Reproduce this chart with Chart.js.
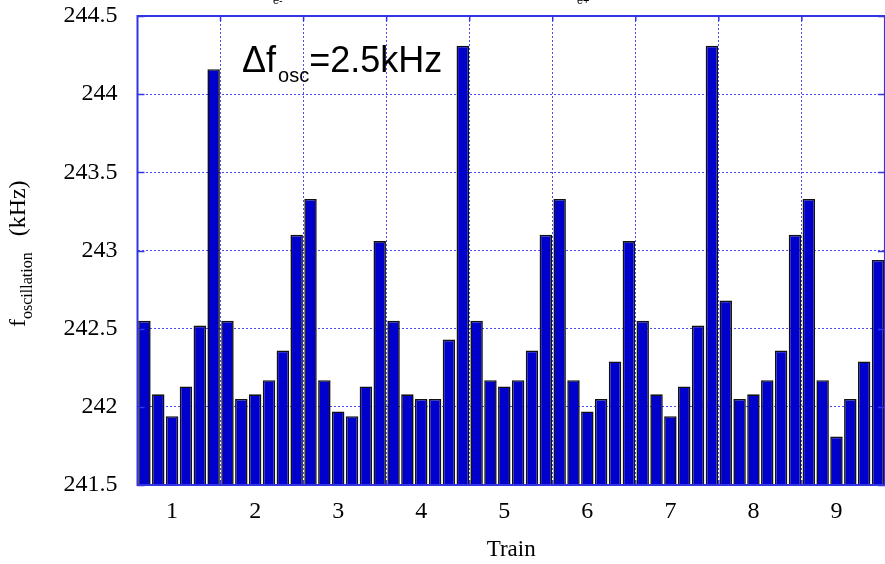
<!DOCTYPE html>
<html>
<head>
<meta charset="utf-8">
<title>Oscillation frequency per bunch</title>
<script src="https://cdn.jsdelivr.net/npm/chart.js@4.4.1/dist/chart.umd.min.js"></script>
<style>
  html, body { margin: 0; padding: 0; background: #fff; overflow: hidden; }
  #wrap { position: relative; width: 890px; height: 564px; }
</style>
</head>
<body>
<div id="wrap"><canvas id="oscChart"></canvas></div>
<script>
// trains along the x axis, 6 bunches each
const trains = ['1', '2', '3', '4', '5', '6', '7', '8', '9'];
const bunchesPerTrain = 6;

// measured oscillation frequency per bunch (kHz)
const train1 = [242.55, 242.08, 241.94, 242.13, 242.52, 244.16];
const train2 = [242.55, 242.05, 242.08, 242.17, 242.36, 243.10];
const train3 = [243.33, 242.17, 241.97, 241.94, 242.13, 243.06];
const train4 = [242.55, 242.08, 242.05, 242.05, 242.43, 244.31];
const train5 = [242.55, 242.17, 242.13, 242.17, 242.36, 243.10];
const train6 = [243.33, 242.17, 241.97, 242.05, 242.29, 243.06];
const train7 = [242.55, 242.08, 241.94, 242.13, 242.52, 244.31];
const train8 = [242.68, 242.05, 242.08, 242.17, 242.36, 243.10];
const train9 = [243.33, 242.17, 241.81, 242.05, 242.29, 242.94];

const yMin = 241.5;
const yMax = 244.5;
const yStep = 0.5;

const fOsc = [].concat(train1, train2, train3, train4, train5, train6, train7, train8, train9);

// one category per bunch, train number printed under the 3rd bunch
const labels = fOsc.map((v, i) => (i % bunchesPerTrain === 2 ? trains[Math.floor(i / bunchesPerTrain)] : ''));

const axisBlue = '#3434e4';
const gridBlue = '#4c4cff';
const serif = "'Liberation Serif', 'Times New Roman', serif";
const sans = "'Liberation Sans', Arial, sans-serif";

const decorations = {
  id: 'decorations',
  afterDatasetsDraw(chart) {
    const ctx = chart.ctx;
    const a = chart.chartArea;
    const y = chart.scales.y;
    const x = chart.scales.x;

    ctx.save();
    // frame
    ctx.strokeStyle = axisBlue;
    ctx.lineWidth = 2;
    ctx.strokeRect(a.left, a.top, a.right - a.left, a.bottom - a.top);

    // inward tick marks
    ctx.lineWidth = 1.5;
    ctx.beginPath();
    y.ticks.forEach(t => {
      const py = Math.round(y.getPixelForValue(t.value)) + 0.5;
      ctx.moveTo(a.left, py); ctx.lineTo(a.left + 7, py);
      ctx.moveTo(a.right, py); ctx.lineTo(a.right - 7, py);
    });
    for (let t = 1; t < trains.length; t++) {
      const px = (x.getPixelForValue(t * bunchesPerTrain) + x.getPixelForValue(t * bunchesPerTrain - 1)) / 2;
      ctx.moveTo(px, a.top); ctx.lineTo(px, a.top + 5);
      ctx.moveTo(px, a.bottom); ctx.lineTo(px, a.bottom - 5);
    }
    ctx.stroke();

    ctx.fillStyle = '#000';
    ctx.textBaseline = 'alphabetic';
    ctx.textAlign = 'left';

    // y axis title: f_oscillation (kHz)
    ctx.save();
    ctx.translate(25, 327);
    ctx.rotate(-Math.PI / 2);
    ctx.font = '24px ' + serif;
    ctx.fillText('f', 0, 0);
    let cx = ctx.measureText('f').width;
    ctx.font = '16px ' + serif;
    ctx.fillText('oscillation', cx, 7);
    cx += ctx.measureText('oscillation').width + 16;
    ctx.font = '24px ' + serif;
    ctx.fillText('(kHz)', cx, 0);
    ctx.restore();

    // annotation: Δf_osc = 2.5kHz
    let ax = 242;
    ctx.font = '36px ' + sans;
    ctx.fillText('\u0394f', ax, 72);
    ax += ctx.measureText('\u0394f').width + 2;
    ctx.font = '20px ' + sans;
    ctx.fillText('osc', ax, 82);
    ax += ctx.measureText('osc').width;
    ctx.font = '36px ' + sans;
    ctx.fillText('=2.5kHz', ax, 72);

    // beam labels clipped at the top edge
    ctx.font = '11px ' + sans;
    ctx.fillText('e-', 273, 4);
    ctx.fillText('e+', 577, 4);
    ctx.restore();
  }
};

new Chart(document.getElementById('oscChart'), {
  type: 'bar',
  data: {
    labels: labels,
    datasets: [{
      data: fOsc,
      backgroundColor: '#0000cc',
      borderColor: '#111111',
      borderWidth: 1.6,
      barPercentage: 0.9,
      categoryPercentage: 1.0
    }]
  },
  options: {
    responsive: true,
    maintainAspectRatio: false,
    animation: false,
    layout: { padding: { top: 16, right: 0, left: 0, bottom: 0 } },
    plugins: {
      legend: { display: false },
      tooltip: { enabled: false }
    },
    scales: {
      x: {
        afterFit: s => { s.height = 79; },
        border: { display: false, dash: [2, 2] },
        grid: {
          drawTicks: false,
          lineWidth: 1,
          color: c => (c.index > 0 && c.index % bunchesPerTrain === 0 ? gridBlue : 'transparent')
        },
        ticks: {
          autoSkip: false,
          maxRotation: 0,
          padding: 12,
          color: '#000',
          font: { family: serif, size: 24 }
        },
        title: {
          display: true,
          text: 'Train',
          color: '#000',
          font: { family: serif, size: 23 },
          padding: { top: 0, bottom: 0 }
        }
      },
      y: {
        min: yMin,
        max: yMax,
        // fixed axis width; tick labels may overhang the plot top
        afterFit: s => {
          s.width = 137.5;
          s.paddingTop = 0;
          s.paddingBottom = 0;
        },
        border: { display: false, dash: [2, 2] },
        grid: { drawTicks: false, color: gridBlue, lineWidth: 1 },
        ticks: {
          stepSize: yStep,
          padding: 20,
          color: '#000',
          font: { family: serif, size: 24 },
          callback: v => String(+v.toFixed(1))
        }
      }
    }
  },
  plugins: [decorations]
});
</script>
</body>
</html>
